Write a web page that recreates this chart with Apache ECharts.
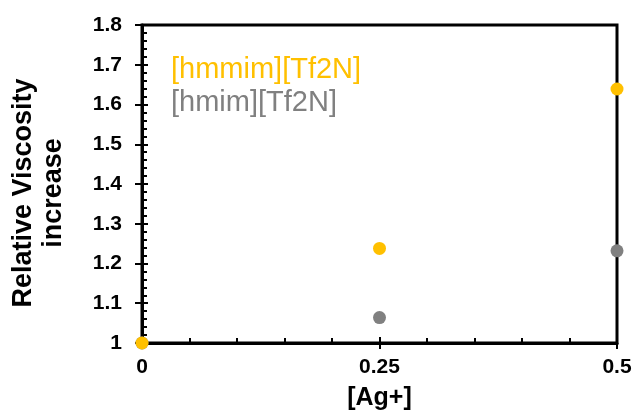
<!DOCTYPE html>
<html>
<head>
<meta charset="utf-8">
<script src="https://cdn.jsdelivr.net/npm/echarts@6/dist/echarts.min.js"></script>
<style>
html,body{margin:0;padding:0;background:#fff;}
#c{width:635px;height:416px;}
</style>
</head>
<body>
<div id="c"></div>
<script>
const agConc = [0, 0.25, 0.5];
const hmmimValues = [1.0, 1.238, 1.639];
const hmimValues = [1.0, 1.064, 1.232];
const seriesNames = ['[hmmim][Tf2N]', '[hmim][Tf2N]'];
const xName = '[Ag+]';
const yName = 'Relative Viscosity\nincrease';

const FONT = '"Liberation Sans", Arial, sans-serif';
const YELLOW = '#FFC000';
const GRAY = '#808080';

const chart = echarts.init(document.getElementById('c'));
const pts = (ys) => agConc.map((x, i) => [x, ys[i]]);

const option = {
  animation: false,
  backgroundColor: '#fff',
  textStyle: { fontFamily: FONT },
  grid: {
    left: 142, right: 18, top: 25, bottom: 73,
    show: true, borderColor: '#000', borderWidth: 3, backgroundColor: 'transparent'
  },
  legend: {
    orient: 'vertical',
    left: 166, top: 49,
    itemWidth: 0, itemHeight: 0, itemGap: 2,
    icon: 'rect',
    selectedMode: false,
    data: [
      { name: seriesNames[0], textStyle: { color: YELLOW } },
      { name: seriesNames[1], textStyle: { color: GRAY } }
    ],
    textStyle: { fontSize: 29, fontFamily: FONT, lineHeight: 31, padding: [0, 0, 0, -5] }
  },
  xAxis: [
    {
      type: 'value', min: 0, max: 0.5, interval: 0.25,
      name: xName, nameLocation: 'middle', nameGap: 43,
      nameTextStyle: { fontSize: 25, fontWeight: 'bold', color: '#000', fontFamily: FONT },
      axisLine: { show: true, lineStyle: { color: '#000', width: 3 } },
      axisTick: { show: true, inside: false, length: 6, lineStyle: { color: '#000', width: 2 } },
      axisLabel: { fontSize: 21, fontWeight: 'bold', color: '#000', margin: 14, fontFamily: FONT },
      splitLine: { show: false }
    },
    {
      type: 'value', min: 0, max: 0.5, interval: 0.25, position: 'bottom',
      axisLine: { show: false },
      axisTick: { show: true, inside: true, length: 6, lineStyle: { color: '#000', width: 2 } },
      minorTick: { show: true, splitNumber: 5, length: 5, lineStyle: { color: '#000', width: 2 } },
      axisLabel: { show: false },
      splitLine: { show: false }
    }
  ],
  yAxis: [
    {
      type: 'value', min: 1, max: 1.8, interval: 0.1,
      name: yName, nameLocation: 'middle', nameGap: 73,
      nameTextStyle: { fontSize: 27, fontWeight: 'bold', color: '#000', lineHeight: 30, fontFamily: FONT, padding: [0, 18, 0, 0] },
      axisLine: { show: true, lineStyle: { color: '#000', width: 3 } },
      axisTick: { show: true, inside: false, length: 7, lineStyle: { color: '#000', width: 2 } },
      axisLabel: { fontSize: 21, fontWeight: 'bold', color: '#000', margin: 20, fontFamily: FONT },
      splitLine: { show: false }
    },
    {
      type: 'value', min: 1, max: 1.8, interval: 0.1, position: 'left',
      axisLine: { show: false },
      axisTick: { show: true, inside: true, length: 6, lineStyle: { color: '#000', width: 2 } },
      minorTick: { show: true, splitNumber: 5, length: 5, lineStyle: { color: '#000', width: 2 } },
      axisLabel: { show: false },
      splitLine: { show: false }
    }
  ],
  series: [
    {
      name: seriesNames[0], type: 'scatter', xAxisIndex: 0, yAxisIndex: 0,
      symbol: 'circle', symbolSize: 13, z: 5,
      itemStyle: { color: YELLOW, opacity: 1 },
      data: pts(hmmimValues)
    },
    {
      name: seriesNames[1], type: 'scatter', xAxisIndex: 0, yAxisIndex: 0,
      symbol: 'circle', symbolSize: 13, z: 4,
      itemStyle: { color: GRAY, opacity: 1 },
      data: pts(hmimValues)
    }
  ]
};
chart.setOption(option);
</script>
</body>
</html>
